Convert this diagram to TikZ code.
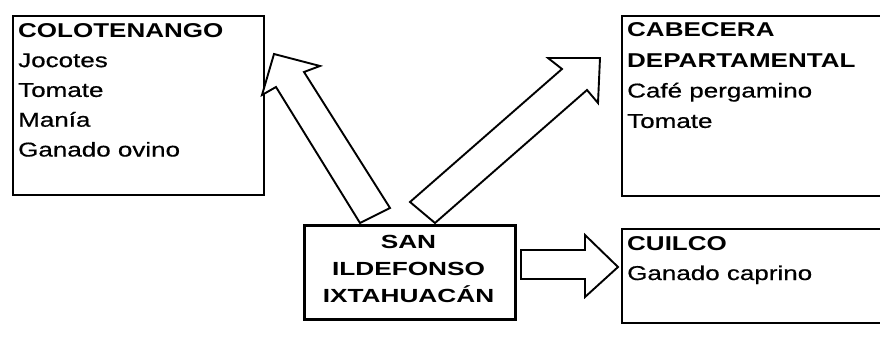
\documentclass[tikz,border=0pt]{standalone}
\usepackage{fontspec}
\setmainfont{Liberation Sans}[FakeStretch=1.3, UprightFeatures={FakeBold=0.6}]
\newfontfamily\sanfont{Liberation Sans}[FakeStretch=1.38]
\begin{document}
\begin{tikzpicture}[x=1pt,y=-1pt,
  box/.style={draw, line width=1.9pt, inner sep=0pt, anchor=north west},
  mainbox/.style={draw, line width=2.8pt, inner sep=0pt, anchor=north west},
  txt/.style={anchor=base west, inner sep=0pt},
  blockarrow/.style={draw, line width=1.9pt, line join=miter, fill=white}]
\useasboundingbox (0,0) rectangle (880,345);

% boxes
\node[box, minimum width=251pt, minimum height=179pt] (colo) at (12,15) {};
\node[box, minimum width=280pt, minimum height=180pt] (cabe) at (621,15) {};
\node[box, minimum width=280pt, minimum height=94pt] (cuil) at (621,228) {};
\node[mainbox, minimum width=211pt, minimum height=94pt] (san) at (303,224) {};

% texts
\node[txt] (colotxt) at (18,37.3) {\parbox[t]{240pt}{\raggedright\fontsize{20}{29.8}\selectfont
  \textbf{COLOTENANGO}\\Jocotes\\Tomate\\Manía\\Ganado ovino}};
\node[txt] (cabetxt) at (627,36.7) {\parbox[t]{255pt}{\raggedright\fontsize{20}{30.4}\selectfont
  \textbf{CABECERA}\\\textbf{DEPARTAMENTAL}\\Café pergamino\\Tomate}};
\node[txt] (cuiltxt) at (627,250) {\parbox[t]{255pt}{\raggedright\fontsize{20}{30}\selectfont
  \textbf{CUILCO}\\Ganado caprino}};
\node[anchor=base, inner sep=0pt] (santxt) at (408.5,248) {\parbox[t]{205pt}{\centering\sanfont\fontsize{19}{27}\selectfont\bfseries
  SAN\\ILDEFONSO\\IXTAHUACÁN}};

% block arrows
\draw[blockarrow] (274,54) -- (320,66) -- (304,72) -- (390,208) -- (360,223)
  -- (276,87) -- (262,95) -- cycle;
\draw[blockarrow] (600,58) -- (598,103) -- (587,90) -- (435,223) -- (410,202)
  -- (562,69) -- (548,58) -- cycle;
\draw[blockarrow] (521,250) -- (585,250) -- (585,235) -- (618,267) -- (585,297)
  -- (585,279) -- (521,279) -- cycle;
\end{tikzpicture}
\end{document}
